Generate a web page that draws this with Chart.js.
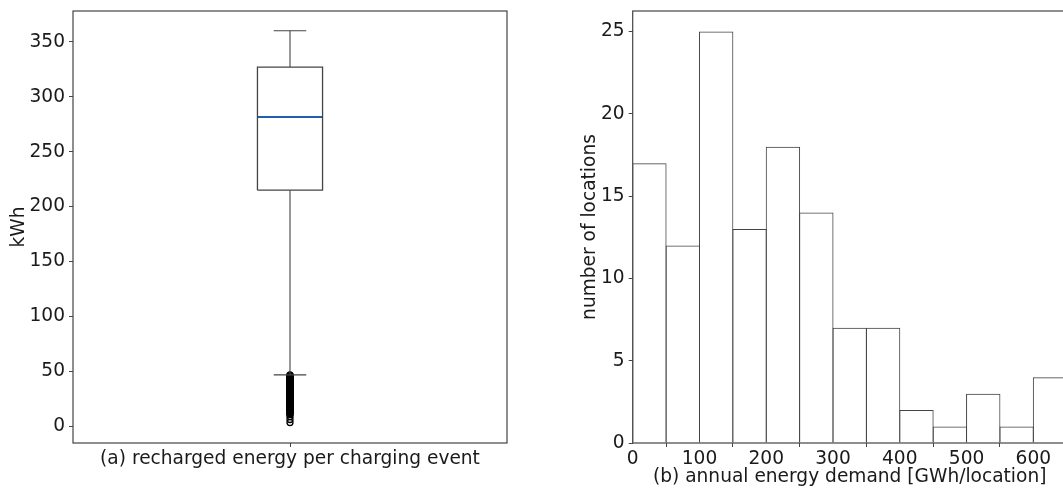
<!DOCTYPE html>
<html><head><meta charset="utf-8">
<script src="https://cdn.jsdelivr.net/npm/chart.js@4"></script>
<style>
html,body{margin:0;padding:0;background:#fff;overflow:hidden;width:1063px;height:488px}
#wrap{position:relative;width:1063px;height:488px;overflow:hidden;background:#fff}
#a{position:absolute;left:0;top:0}
#b{position:absolute;left:540px;top:0}
</style></head><body>
<div id="wrap"><canvas id="a" width="530" height="488"></canvas><canvas id="b" width="540" height="488"></canvas></div>
<script>
// ---- data: (a) box plot ----
const boxLabel = '(a) recharged energy per charging event';
const boxStats = [47, 215, 281.5, 327, 360]; // lower whisker, Q1, median, Q3, upper whisker
const outliers = [47,46.5,46,45.5,45,44.5,44,43.5,43,42.5,42,41.5,41,40.5,40,39.5,39,38.5,38,37.5,37,36.5,36,35.5,35,34.5,34,33.5,33,32.5,32,31.5,31,30.5,30,29.5,29,28.5,28,27.5,27,26.5,26,25.5,25,24.5,24,23.5,23,22.5,22,21.5,21,20.5,20,19.5,19,18.5,18,17.5,17,16.5,16,15.5,15,14.5,14,13.5,13,12.5,12,11.5,11,9.2,6.4,3.6];
const kwhTicks = [0,50,100,150,200,250,300,350];
// ---- data: (b) histogram ----
const binStarts = [0,50,100,150,200,250,300,350,400,450,500,550,600];
const binCounts = [17,12,25,13,18,14,7,7,2,1,3,1,4];
const demandTicks = [0,100,200,300,400,500,600];
const countTicks = [0,5,10,15,20,25];

Chart.defaults.font.family = 'DejaVu Sans';
Chart.defaults.font.size = 18.6;
Chart.defaults.color = '#1a1a1a';
Chart.defaults.animation = false;
Chart.defaults.plugins.legend.display = false;
Chart.defaults.plugins.tooltip.enabled = false;

const LINE = '#444';
const frame = {id:'frame', afterDraw(chart){
  const {ctx, chartArea:{left,top,right,bottom}} = chart;
  ctx.save(); ctx.strokeStyle = LINE; ctx.lineWidth = 1.2;
  ctx.strokeRect(left, top, right-left, bottom-top); ctx.restore();
}};

const gridOpts = {drawOnChartArea:false, tickLength:4, color:LINE, lineWidth:1};
const fixY = w => s => { s.width = w; s.paddingTop = 0; s.paddingBottom = 0; };
const fixX = h => s => { s.height = h; s.paddingLeft = 0; s.paddingRight = 0; };

// box plot geometry in data units
const pos = 1, half = 0.075, capHalf = 0.0375;
const [lo, q1, med, q3, hi] = boxStats;
const seg = (pts, color, w) => ({type:'scatter', data:pts, showLine:true, borderColor:color, borderWidth:w, pointRadius:0, fill:false, tension:0});

new Chart(document.getElementById('a'), {
  type:'scatter',
  data:{datasets:[
    seg([{x:pos-half,y:q1},{x:pos+half,y:q1},{x:pos+half,y:q3},{x:pos-half,y:q3},{x:pos-half,y:q1}], LINE, 1.3),
    seg([{x:pos,y:q3},{x:pos,y:hi}], LINE, 1.1),
    seg([{x:pos,y:q1},{x:pos,y:lo}], LINE, 1.1),
    seg([{x:pos-capHalf,y:hi},{x:pos+capHalf,y:hi}], LINE, 1.1),
    seg([{x:pos-capHalf,y:lo},{x:pos+capHalf,y:lo}], LINE, 1.1),
    seg([{x:pos-half,y:med},{x:pos+half,y:med}], '#1f5fae', 2),
    {type:'scatter', data:outliers.map(v=>({x:pos,y:v})), pointRadius:3, borderWidth:1.3, borderColor:'#000', backgroundColor:'rgba(0,0,0,0)'}
  ]},
  options:{
    responsive:false,
    layout:{padding:{left:0,right:23,top:11,bottom:0}},
    scales:{
      x:{type:'linear', min:0.5, max:1.5,
        afterBuildTicks:s=>{s.ticks=[{value:pos}];},
        afterFit:fixX(45),
        grid:gridOpts, border:{display:false},
        ticks:{padding:1, maxRotation:0, autoSkip:false, callback:()=>boxLabel}},
      y:{type:'linear', min:-15, max:378,
        afterBuildTicks:s=>{s.ticks=kwhTicks.map(v=>({value:v}));},
        afterFit:fixY(73),
        grid:gridOpts, border:{display:false},
        ticks:{padding:4},
        title:{display:true, text:'kWh', padding:{top:8,bottom:0}}}
    }
  },
  plugins:[frame]
});

const binWidth = 50;
new Chart(document.getElementById('b'), {
  type:'bar',
  data:{datasets:[{
    data:binStarts.map((s,i)=>({x:s+binWidth/2, y:binCounts[i]})),
    backgroundColor:'rgba(0,0,0,0)', borderColor:LINE, borderWidth:1, borderSkipped:'start',
    barPercentage:1.03, categoryPercentage:1
  }]},
  options:{
    responsive:false,
    layout:{padding:{left:0,right:13.3,top:11,bottom:0}},
    scales:{
      x:{type:'linear', min:0, max:650, offset:false,
        afterBuildTicks:s=>{s.ticks=demandTicks.map(v=>({value:v}));},
        afterFit:fixX(45),
        grid:gridOpts, border:{display:false},
        ticks:{padding:1, maxRotation:0, autoSkip:false},
        title:{display:true, text:'(b) annual energy demand [GWh/location]', padding:{top:0,bottom:0}}},
      y:{type:'linear', min:0, max:26.25,
        afterBuildTicks:s=>{s.ticks=countTicks.map(v=>({value:v}));},
        afterFit:fixY(92.7),
        grid:gridOpts, border:{display:false},
        ticks:{padding:4},
        title:{display:true, text:'number of locations', padding:{top:39,bottom:0}}}
    }
  },
  plugins:[frame]
});
</script></body></html>
